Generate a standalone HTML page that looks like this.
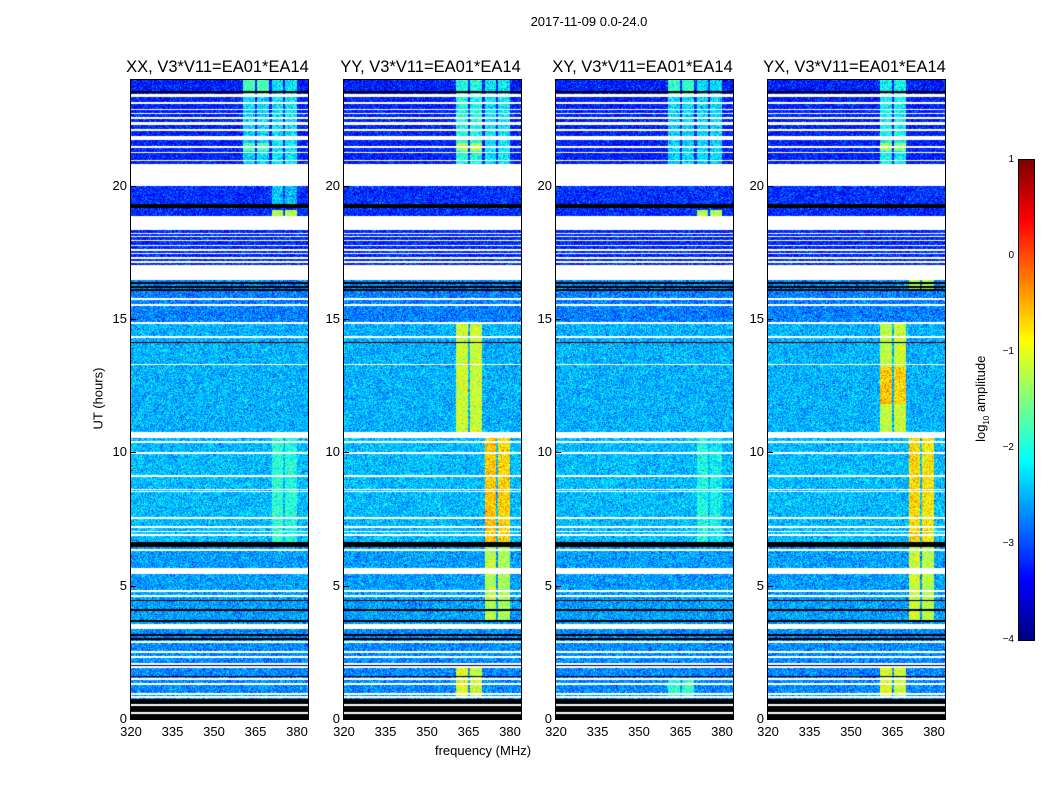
<!DOCTYPE html>
<html><head><meta charset="utf-8"><style>
body{margin:0;background:#fff;width:1050px;height:800px;position:relative;overflow:hidden;font-family:"Liberation Sans",sans-serif;color:#000}
.t{position:absolute;white-space:nowrap}
canvas{position:absolute}
.frame{position:absolute;border:1px solid #000;box-sizing:border-box}
</style></head><body>
<div class="t" style="left:489px;top:14px;width:200px;text-align:center;font-size:13px">2017-11-09 0.0-24.0</div>
<div class="t" style="left:48px;top:391px;width:100px;text-align:center;font-size:13px;transform:rotate(-90deg)">UT (hours)</div>
<div class="t" style="left:383px;top:743px;width:200px;text-align:center;font-size:13px">frequency (MHz)</div>
<canvas id="cb" width="15" height="480" style="left:1019px;top:160px;border:1px solid #000;box-sizing:content-box;margin:-1px"></canvas>
<div class="t" style="left:932px;top:390px;width:100px;text-align:center;font-size:13px;transform:rotate(-90deg)">log<sub style="font-size:8px">10</sub> amplitude</div>
<div id="root"></div>
<script>
// ---- data ----
const panelTitles=["XX, V3*V11=EA01*EA14","YY, V3*V11=EA01*EA14","XY, V3*V11=EA01*EA14","YX, V3*V11=EA01*EA14"];
const yTicks=[0,5,10,15,20];
const xTicks=[320,335,350,365,380];
const cbTicks=[1,0,-1,-2,-3,-4];
// base level bands (hours start, end, log10 amplitude)
const bandStart=[0.75,3.5,5.66,6.6,10.76,14.8,17.02,19.1,20.8];
const bandEnd=[3.5,5.45,6.45,10.55,14.8,16.1,19.1,20.0,24];
const bandLevel=[-2.7,-2.6,-2.6,-2.45,-2.5,-2.75,-3.2,-3.15,-3.25];
// flagged (white) rows: start, end hours
const whiteStart=[20.0,16.46,18.34,10.55,5.45,3.37,23.33,22.28,21.72,0.5,0.2,15.72,15.49,14.82,14.29,13.27,10.36,9.94,9.08,8.59,8.52,7.51,7.17,7.02,6.87,6.31,4.77,4.58,2.86,2.48,2.29,2.03,1.92,1.47,1.28,0.91,0.79,23.07,22.84,22.69,22.51,22.06,21.42,21.23,20.93,18.19,18.08,17.93,17.74,17.56,17.44,17.26,17.11];
const whiteEnd=[20.8,17.02,18.86,10.76,5.66,3.56,23.45,22.38,21.87,0.56,0.26,15.78,15.55,14.88,14.35,13.33,10.42,10.0,9.14,8.63,8.56,7.57,7.23,7.06,6.93,6.37,4.83,4.64,2.92,2.54,2.35,2.09,1.98,1.53,1.34,0.97,0.85,23.12,22.89,22.74,22.56,22.11,21.47,21.28,20.98,18.24,18.13,17.98,17.79,17.61,17.49,17.31,17.16];
// black rows: start, end hours
const blackStart=[0,6.45,19.18,23.48,16.33,16.18,16.06,4.43,4.06,3.65,2.96,3.12,1.99,1.58,14.1,6.6];
const blackEnd=[0.75,6.6,19.3,23.55,16.38,16.23,16.11,4.48,4.11,3.7,3.04,3.2,2.04,1.63,14.14,6.63];
// RFI channel bands (MHz)
const rfiLo=[360.5,365.5,370.8,375.8];
const rfiHi=[364.8,369.8,375.0,380.0];
// RFI events per panel: panel, t0, t1, band index, level
const evPanel=[0,0,0,0,0,0,0,0,0,0,0,0,0,0, 1,1,1,1,1,1,1,1,1,1,1,1,1,1, 2,2,2,2,2,2,2,2,2,2,2,2, 3,3,3,3,3,3,3,3,3,3,3,3,3,3,3,3];
const evT0=[20.8,20.8,23.4,23.4,21.3,21.3,20.8,20.8,19.3,19.3,18.86,18.86,6.6,6.6, 20.8,20.8,21.3,21.3,20.8,20.8,10.76,10.76,6.6,6.6,3.7,3.7,0.8,0.8, 20.8,20.8,23.4,23.4,20.8,20.8,18.86,18.86,6.6,6.6,0.8,0.8, 20.8,20.8,21.3,21.3,10.76,10.76,11.8,11.8,6.6,6.6,3.7,3.7,0.8,0.8,16.1,16.1];
const evT1=[24,24,24,24,21.6,21.6,24,24,20.0,20.0,19.1,19.1,10.55,10.55, 24,24,21.6,21.6,24,24,14.8,14.8,10.6,10.6,6.45,6.45,2.1,2.1, 24,24,24,24,24,24,19.1,19.1,10.55,10.55,1.5,1.5, 24,24,21.6,21.6,14.8,14.8,13.2,13.2,10.6,10.6,6.45,6.45,2.1,2.1,16.46,16.46];
const evBand=[0,1,0,1,0,1,2,3,2,3,2,3,2,3, 0,1,0,1,2,3,0,1,2,3,2,3,0,1, 0,1,0,1,2,3,2,3,2,3,0,1, 0,1,0,1,0,1,0,1,2,3,2,3,0,1,2,3];
const evLevel=[-2.3,-2.3,-1.8,-1.8,-1.7,-1.7,-2.2,-2.2,-2.4,-2.4,-1.2,-1.2,-1.9,-2.0, -2.0,-2.0,-1.3,-1.3,-2.2,-2.2,-1.1,-1.1,-0.6,-0.7,-1.2,-1.3,-1.0,-1.1, -2.3,-2.3,-1.9,-1.9,-2.3,-2.3,-1.3,-1.3,-2.0,-2.1,-1.9,-1.9, -2.1,-2.1,-1.4,-1.4,-1.2,-1.1,-0.6,-0.7,-0.7,-0.8,-1.1,-1.2,-1.0,-1.1,-1.2,-1.2];
const panelLeft=[131,344,556,768];
</script>
<script>
const PW=177,PT=80,PH=639,F0=320,FPX=2.767;
const yOf=h=>719-h*26.667;
const xOf=(f,L)=>L+(f-F0)*FPX;
function jet(t){t=Math.max(0,Math.min(1,t));
 const r=Math.max(0,Math.min(1,Math.min(4*t-1.5,-4*t+4.5)));
 const g=Math.max(0,Math.min(1,Math.min(4*t-0.5,-4*t+3.5)));
 const b=Math.max(0,Math.min(1,Math.min(4*t+0.5,-4*t+2.5)));
 return [r*255|0,g*255|0,b*255|0];}
const col=v=>jet((v+4)/5);
function hash(a,b,c){let x=(a*374761393+b*668265263+c*2147483647)|0;x=(x^(x>>>13))*1274126177|0;x=x^(x>>>16);return ((x>>>0)%10000)/10000;}
const root=document.getElementById('root');
panelLeft.forEach((L,p)=>{
 const cv=document.createElement('canvas');
 
 
 cv.width=PW;cv.height=PH;cv.style.left=L+'px';cv.style.top=PT+'px';
 root.appendChild(cv);
 const ctx=cv.getContext('2d');const img=ctx.createImageData(PW,PH);
 for(let y=0;y<PH;y++){
  const h=(719-(PT+y+0.5))/26.667;
  let base=null;
  for(let i=0;i<bandStart.length;i++) if(h>=bandStart[i]&&h<bandEnd[i]) base=bandLevel[i];
  let white=false,black=false;
  for(let i=0;i<whiteStart.length;i++) if(h>=whiteStart[i]&&h<whiteEnd[i]) white=true;
  for(let i=0;i<blackStart.length;i++) if(h>=blackStart[i]&&h<blackEnd[i]) black=true;
  if(base===null) base=-2.7;
  for(let x=0;x<PW;x++){
   const k=(y*PW+x)*4;let c;
   if(white) c=[255,255,255];
   else if(black) c=[0,0,0];
   else{
    const f=F0+(x+0.5)/FPX;
    let v=base;
    for(let e=0;e<evPanel.length;e++){
     if(evPanel[e]!==p) continue;
     const b=evBand[e];
     if(h>=evT0[e]&&h<evT1[e]&&f>=rfiLo[b]&&f<rfiHi[b]) v=Math.max(v,evLevel[e]);
    }
    const n=(hash(x,y,p)+hash(x+7,y+13,p+3)+hash(x+3,y+29,p+5)-1.5)*0.55;
    c=col(v+n);
   }
   img.data[k]=c[0];img.data[k+1]=c[1];img.data[k+2]=c[2];img.data[k+3]=255;
  }
 }
 ctx.putImageData(img,0,0);
 const fr=document.createElement('div');fr.className='frame';
 
 
 fr.style.cssText=`left:${L-1}px;top:${PT-1}px;width:${PW+2}px;height:${PH+2}px`;
 root.appendChild(fr);
 const ti=document.createElement('div');ti.className='t';
 
 
 ti.style.cssText=`left:${L-32}px;top:58px;width:${PW+60}px;text-align:center;font-size:16.5px`;
 ti.textContent=panelTitles[p];root.appendChild(ti);
 yTicks.forEach(v=>{
  const lb=document.createElement('div');lb.className='t';
  
  
  lb.style.cssText=`left:${L-40}px;top:${yOf(v)-8}px;width:36px;text-align:right;font-size:13px`;
  lb.textContent=v;root.appendChild(lb);
  const tk=document.createElement('div');
  
  
  tk.style.cssText=`position:absolute;left:${L}px;top:${yOf(v)}px;width:5px;height:1px;background:#000`;
  root.appendChild(tk);
 });
 xTicks.forEach(v=>{
  const lb=document.createElement('div');lb.className='t';
  
  
  lb.style.cssText=`left:${xOf(v,L)-20}px;top:724px;width:40px;text-align:center;font-size:13px`;
  lb.textContent=v;root.appendChild(lb);
 });
});
// colorbar
const cb=document.getElementById('cb').getContext('2d');
for(let y=0;y<480;y++){const c=col(1-y/96);cb.fillStyle=`rgb(${c[0]},${c[1]},${c[2]})`;cb.fillRect(0,y,15,1);}
cbTicks.forEach(v=>{
 const lb=document.createElement('div');lb.className='t';
 
 
 lb.style.cssText=`left:980px;top:${160+(1-v)*96-6}px;width:34px;text-align:right;font-size:10px`;
 lb.textContent=v<0?'\u2212'+(-v):v;root.appendChild(lb);
});
</script>
</body></html>
